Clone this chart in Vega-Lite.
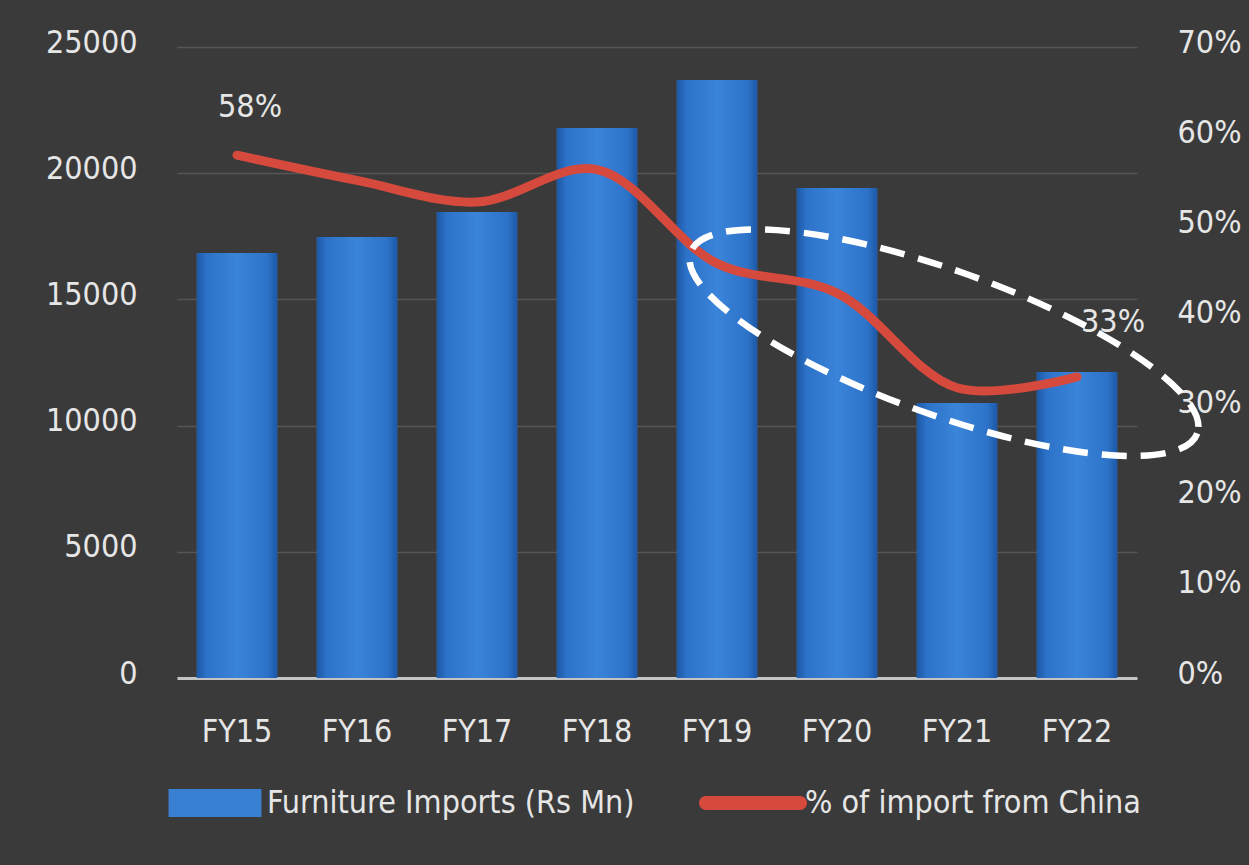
{
  "$schema": "https://vega.github.io/schema/vega-lite/v6.json",
  "width": 960,
  "height": 631,
  "autosize": {"type": "none"},
  "padding": {"left": 177, "top": 47, "right": 112, "bottom": 187},
  "background": "#3a3a3a",
  "config": {
    "view": {"stroke": null},
    "font": "DejaVu Sans Condensed, sans-serif",
    "axis": {
      "labelFont": "DejaVu Sans Condensed, sans-serif",
      "labelColor": "#e6e6e6",
      "labelFontSize": 32,
      "title": null,
      "ticks": false
    }
  },
  "data": {
    "values": [
      {"year": "FY15", "imports": 16840, "china": 58.0, "label": "58%", "series": "Furniture Imports (Rs Mn)"},
      {"year": "FY16", "imports": 17470, "china": 55.2, "label": null, "series": "Furniture Imports (Rs Mn)"},
      {"year": "FY17", "imports": 18460, "china": 52.8, "label": null, "series": "Furniture Imports (Rs Mn)"},
      {"year": "FY18", "imports": 21790, "china": 56.4, "label": null, "series": "Furniture Imports (Rs Mn)"},
      {"year": "FY19", "imports": 23690, "china": 46.0, "label": null, "series": "Furniture Imports (Rs Mn)"},
      {"year": "FY20", "imports": 19410, "china": 42.7, "label": null, "series": "Furniture Imports (Rs Mn)"},
      {"year": "FY21", "imports": 10900, "china": 32.2, "label": null, "series": "Furniture Imports (Rs Mn)"},
      {"year": "FY22", "imports": 12120, "china": 33.4, "label": "33%", "series": "Furniture Imports (Rs Mn)"}
    ]
  },
  "encoding": {
    "x": {
      "field": "year",
      "type": "nominal",
      "sort": null,
      "scale": {"paddingInner": 0.33, "paddingOuter": 0.165},
      "axis": {
        "labelAngle": 0,
        "domainColor": "#c4c4c4",
        "domainWidth": 3,
        "labelPadding": 38,
        "labelBaseline": "top"
      }
    }
  },
  "layer": [
    {
      "layer": [
        {
          "mark": {"type": "bar"},
          "encoding": {
            "y": {
              "field": "imports",
              "type": "quantitative",
              "scale": {"domain": [0, 25000], "nice": false},
              "axis": {
                "orient": "left",
                "values": [0, 5000, 10000, 15000, 20000, 25000],
                "grid": true,
                "gridColor": "#565656",
                "gridWidth": 1.5,
                "domain": false,
                "labelPadding": 40,
                "labelOffset": -5,
                "format": "d"
              }
            },
            "color": {
              "field": "series",
              "type": "nominal",
              "scale": {
                "domain": ["Furniture Imports (Rs Mn)", "% of import from China"],
                "range": ["#3a80d2", "#d64a3e"]
              },
              "legend": {
                "orient": "none",
                "legendX": -16,
                "legendY": 702,
                "direction": "horizontal",
                "title": null,
                "padding": 0,
                "labelFont": "DejaVu Sans Condensed, sans-serif",
                "labelFontSize": 32,
                "labelColor": "#e6e6e6",
                "labelLimit": 800,
                "symbolSize": 11664,
                "symbolStrokeWidth": 0,
                "labelOffset": -2,
                "columnPadding": 64,
                "encode": {
                  "symbols": {
                    "update": {
                      "shape": {"signal": "datum.index === 0 ? 'M -0.86 -0.26 L 0.86 -0.26 L 0.86 0.26 L -0.86 0.26 Z' : 'M -0.87 -0.13 A 0.13 0.13 0 0 0 -0.87 0.13 L 0.87 0.13 A 0.13 0.13 0 0 0 0.87 -0.13 Z'"}
                    }
                  }
                }
              }
            }
          }
        },
        {
          "mark": {
            "type": "bar",
            "fill": {
              "gradient": "linear",
              "x1": 0, "y1": 0, "x2": 1, "y2": 0,
              "stops": [
                {"offset": 0, "color": "#1c58a6"},
                {"offset": 0.12, "color": "#2c72c8"},
                {"offset": 0.5, "color": "#3a84da"},
                {"offset": 0.88, "color": "#2c72c8"},
                {"offset": 1, "color": "#1c58a6"}
              ]
            }
          },
          "encoding": {
            "y": {"field": "imports", "type": "quantitative"}
          }
        }
      ]
    },
    {
      "layer": [
        {
          "mark": {
            "type": "line",
            "interpolate": "catmull-rom",
            "color": "#d64a3e",
            "strokeWidth": 9,
            "strokeCap": "round"
          },
          "encoding": {
            "y": {
              "field": "china",
              "type": "quantitative",
              "scale": {"domain": [0, 70], "nice": false},
              "axis": {
                "orient": "right",
                "values": [0, 10, 20, 30, 40, 50, 60, 70],
                "labelExpr": "datum.value + '%'",
                "grid": false,
                "domain": false,
                "labelPadding": 40,
                "labelOffset": -5
              }
            }
          }
        },
        {
          "transform": [{"filter": "datum.year === 'FY15'"}],
          "mark": {
            "type": "text",
            "font": "DejaVu Sans Condensed, sans-serif",
            "fontSize": 32,
            "color": "#e6e6e6",
            "align": "left",
            "baseline": "middle",
            "dx": -19,
            "dy": -48
          },
          "encoding": {
            "y": {"field": "china", "type": "quantitative"},
            "text": {"field": "label"}
          }
        },
        {
          "transform": [{"filter": "datum.year === 'FY22'"}],
          "mark": {
            "type": "text",
            "font": "DejaVu Sans Condensed, sans-serif",
            "fontSize": 32,
            "color": "#e6e6e6",
            "align": "left",
            "baseline": "middle",
            "dx": 4,
            "dy": -55
          },
          "encoding": {
            "y": {"field": "china", "type": "quantitative"},
            "text": {"field": "label"}
          }
        },
        {
          "data": {"values": [{}]},
          "mark": {
            "type": "point",
            "shape": "M 1 0 C 1 0.148 0.5523 0.268 0 0.268 C -0.5523 0.268 -1 0.148 -1 0 C -1 -0.148 -0.5523 -0.268 0 -0.268 C 0.5523 -0.268 1 -0.148 1 0 Z",
            "size": 289444,
            "angle": 19.7,
            "filled": false,
            "stroke": "#ffffff",
            "strokeWidth": 6.5,
            "strokeDash": [25, 14],
            "opacity": 1,
            "xOffset": -13
          },
          "encoding": {
            "x": {"datum": "FY21", "type": "nominal"},
            "y": {"datum": 37.2, "type": "quantitative"}
          }
        }
      ]
    }
  ],
  "resolve": {"scale": {"y": "independent"}}
}
